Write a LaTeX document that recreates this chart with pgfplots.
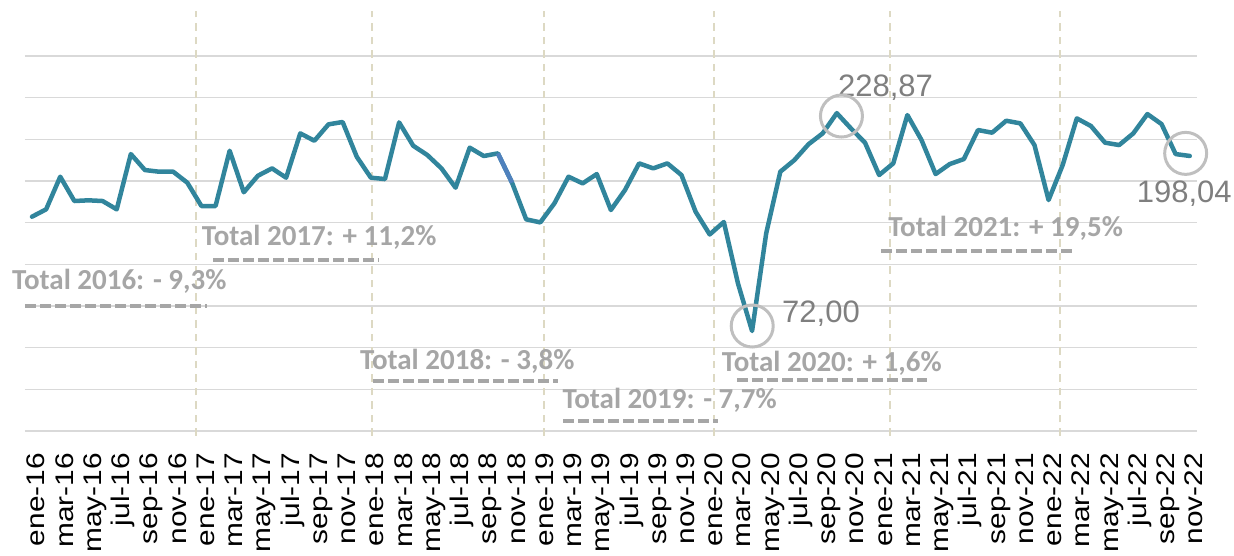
\documentclass[border=0pt]{standalone}
\usepackage{pgfplots}
\pgfplotsset{compat=1.18}
\usepackage{fontspec}
\setmainfont{Liberation Sans}
\newfontfamily\calibri{Carlito}
\newfontfamily\tickfont[FakeStretch=1.17]{Liberation Sans}
\definecolor{lineteal}{HTML}{31859C}
\definecolor{gridc}{HTML}{D9D9D9}
\definecolor{vdash}{HTML}{DDD9C3}
\definecolor{totc}{HTML}{A6A6A6}
\definecolor{numc}{HTML}{7F7F7F}
\definecolor{circc}{HTML}{BFBFBF}
\definecolor{bluec}{HTML}{4F81BD}
\pgfplotstableread{
x y
0 154.3
1 159.6
2 183.1
3 165.6
4 166.1
5 165.6
6 159.6
7 199.4
8 187.9
9 186.7
10 186.7
11 178.8
12 162.0
13 162.0
14 201.8
15 171.9
16 183.8
17 189.1
18 182.4
19 214.3
20 209.0
21 220.8
22 222.5
23 197.5
24 182.4
25 181.4
26 222.2
27 205.4
28 198.7
29 189.1
30 175.2
31 204.0
32 198.0
33 199.9
34 178.8
35 152.4
36 150.2
37 163.9
38 183.1
39 178.3
40 185.0
41 159.1
42 173.5
43 192.7
44 189.1
45 192.7
46 184.3
47 157.9
48 141.5
49 150.5
50 106.3
51 72.0
52 142.3
53 186.7
54 195.1
55 206.5
56 214.3
57 228.87
58 217.9
59 207.6
60 184.3
61 192.7
62 227.5
63 209.5
64 185.0
65 192.2
66 195.8
67 216.7
68 214.8
69 223.4
70 221.5
71 205.9
72 166.3
73 191.5
74 225.1
75 219.6
76 207.6
77 205.9
78 214.3
79 228.2
80 221.0
81 199.4
82 198.04
}\datatable
\begin{document}
\begin{tikzpicture}
\useasboundingbox (-24.94pt,-125pt) rectangle (1209.06pt,431pt);
\begin{axis}[
 at={(0pt,0pt)}, anchor=south west,
 scale only axis, width=1171.96pt, height=420.8pt,
 xmin=-0.5, xmax=82.5, ymin=0, ymax=303,
 clip=false,
 axis line style={draw=none},
 tick style={draw=none},
 ytick={0,30,...,270}, yticklabels={},
 ymajorgrids, grid style={gridc, line width=1.5pt},
 xtick={0,2,...,82},
 xticklabels={ene-16,mar-16,may-16,jul-16,sep-16,nov-16,
  ene-17,mar-17,may-17,jul-17,sep-17,nov-17,
  ene-18,mar-18,may-18,jul-18,sep-18,nov-18,
  ene-19,mar-19,may-19,jul-19,sep-19,nov-19,
  ene-20,mar-20,may-20,jul-20,sep-20,nov-20,
  ene-21,mar-21,may-21,jul-21,sep-21,nov-21,
  ene-22,mar-22,may-22,jul-22,sep-22,nov-22},
 xticklabel style={xshift=13pt, yshift=-22pt, rotate=90, anchor=base east, inner sep=0pt, font=\tickfont\fontsize{25.5}{25.5}\selectfont},
]
% vertical dashed year separators
\draw[vdash, line width=1.8pt, dash pattern=on 7.5pt off 6pt] (axis cs:11.61,-3.6) -- (axis cs:11.61,302.4);
\draw[vdash, line width=1.8pt, dash pattern=on 7.5pt off 6pt] (axis cs:24.08,-3.6) -- (axis cs:24.08,302.4);
\draw[vdash, line width=1.8pt, dash pattern=on 7.5pt off 6pt] (axis cs:36.26,-3.6) -- (axis cs:36.26,302.4);
\draw[vdash, line width=1.8pt, dash pattern=on 7.5pt off 6pt] (axis cs:48.30,-3.6) -- (axis cs:48.30,302.4);
\draw[vdash, line width=1.8pt, dash pattern=on 7.5pt off 6pt] (axis cs:60.76,-3.6) -- (axis cs:60.76,302.4);
\draw[vdash, line width=1.8pt, dash pattern=on 7.5pt off 6pt] (axis cs:72.80,-3.6) -- (axis cs:72.80,302.4);
% dashed underlines
\draw[totc, line width=4pt, dash pattern=on 11pt off 4pt] (axis cs:-0.496,90.0) -- (axis cs:12.37,90.0);
\draw[totc, line width=4pt, dash pattern=on 11pt off 4pt] (axis cs:12.84,123.1) -- (axis cs:24.53,123.1);
\draw[totc, line width=4pt, dash pattern=on 11pt off 4pt] (axis cs:24.15,36.2) -- (axis cs:37.27,36.2);
\draw[totc, line width=4pt, dash pattern=on 11pt off 4pt] (axis cs:37.63,7.4) -- (axis cs:48.60,7.4);
\draw[totc, line width=4pt, dash pattern=on 11pt off 4pt] (axis cs:49.93,36.7) -- (axis cs:63.39,36.7);
\draw[totc, line width=4pt, dash pattern=on 11pt off 4pt] (axis cs:60.13,129.6) -- (axis cs:73.63,129.6);
% totals text
\begin{scope}[every node/.style={anchor=base west, text=totc, inner sep=0pt, font=\calibri\bfseries\fontsize{29}{29}\selectfont}]
\node at (axis cs:-1.416,102.0) {Total 2016: - 9,3\%};
\node at (axis cs:12.02,133.9) {Total 2017: + 11,2\%};
\node at (axis cs:23.23,44.6) {Total 2018: - 3,8\%};
\node at (axis cs:37.56,16.3) {Total 2019: - 7,7\%};
\node at (axis cs:48.85,42.7) {Total 2020: + 1,6\%};
\node at (axis cs:60.64,140.4) {Total 2021: + 19,5\%};
\end{scope}
% main line
\addplot[lineteal, line width=4.5pt, line join=round, line cap=round, no marks] table[x=x,y=y] {\datatable};
\addplot[bluec, line width=4.5pt, no marks] coordinates {(33,199.9) (34,178.8)};
% highlight circles
\addplot[only marks, mark=o, mark size=21pt, circc, mark options={line width=3pt}] coordinates {(57.33,226.8) (51.01,75.6) (81.71,199.9)};
% value labels
\begin{scope}[every node/.style={anchor=base west, text=numc, inner sep=0pt, font=\fontsize{31}{31}\selectfont}]
\node at (axis cs:57.08,240.7) {228,87};
\node at (axis cs:53.12,78.0) {72,00};
\node at (axis cs:78.24,164.4) {198,04};
\end{scope}
\end{axis}
\end{tikzpicture}
\end{document}
